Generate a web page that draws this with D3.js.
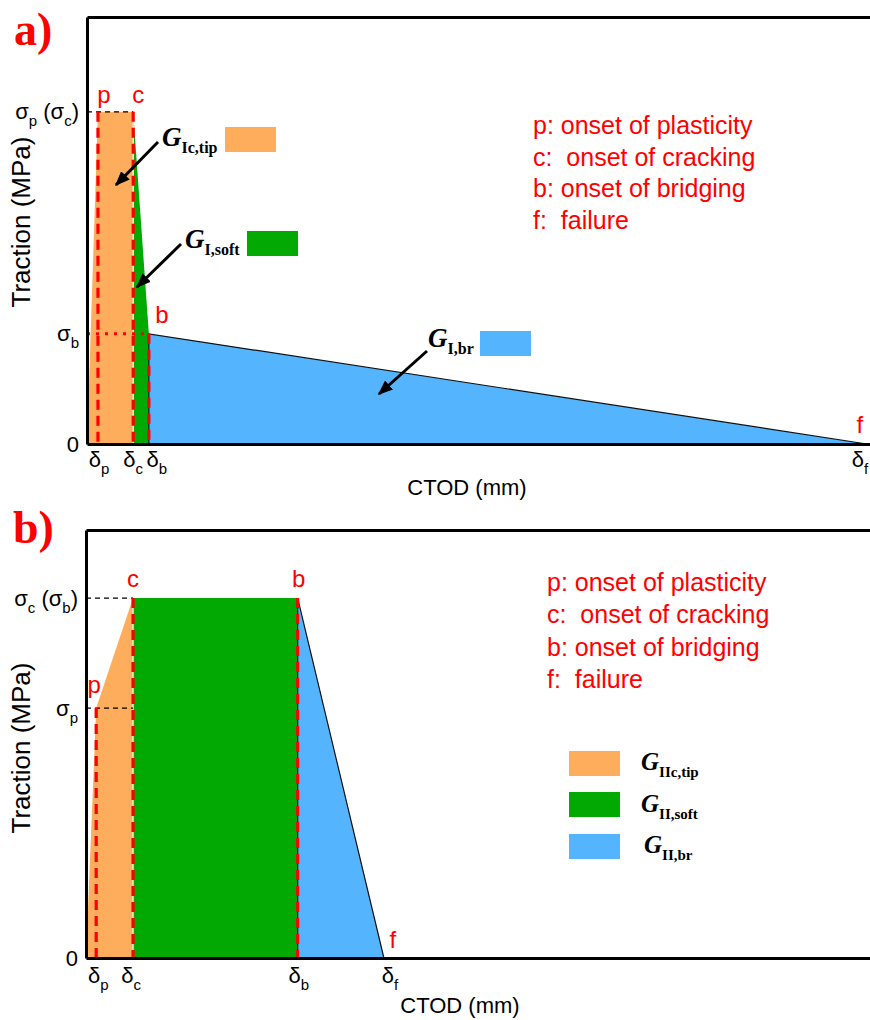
<!DOCTYPE html>
<html><head><meta charset="utf-8">
<script src="https://cdn.jsdelivr.net/npm/d3@7"></script>
<style>
  body { margin: 0; background: #fff; }
  svg { display: block; }
  text { white-space: pre; }
</style>
</head><body>
<svg id="chart" width="870" height="1020"></svg>
<script>
// ---- Mode I traction–separation law (panel a) ----
const modeIPoints   = ["0", "p", "c", "b", "f"];
const modeIDelta    = [0, 1.4, 5.9, 7.9, 99.6];
const modeITraction = [0, 77.8, 77.8, 25.8, 0];
const modeIYTicks   = ["0", "σ_b", "σ_p (σ_c)"];      // at 0, σb, σc
const modeIXTicks   = ["δ_p", "δ_c", "δ_b", "δ_f"];

// ---- Mode II traction–separation law (panel b) ----
const modeIIPoints   = ["0", "p", "c", "b", "f"];
const modeIIDelta    = [0, 1.3, 6.0, 27.0, 38.0];
const modeIITraction = [0, 58.4, 84.1, 84.1, 0];
const modeIIYTicks   = ["0", "σ_p", "σ_c (σ_b)"];     // at 0, σp, σc
const modeIIXTicks   = ["δ_p", "δ_c", "δ_b", "δ_f"];

// ---- shared text ----
const onsetNotes   = ["p: onset of plasticity", "c:  onset of cracking", "b: onset of bridging", "f:  failure"];
const energyModeI  = ["Ic,tip", "I,soft", "I,br"];
const energyModeII = ["IIc,tip", "II,soft", "II,br"];
const xTitle = "CTOD (mm)";
const yTitle = "Traction (MPa)";

const COLORS = { tip: "#FDAD5C", soft: "#03A903", br: "#54B5FE", red: "#FF0000" };
const SANS = "'Liberation Sans', Arial, sans-serif";
const SERIF = "'Liberation Serif', 'Times New Roman', serif";

const svg = d3.select("#chart");

// Writes "σ_p (σ_c)" style strings as text with subscript tspans
function richText(sel, str, size, subSize, subDy) {
  const parts = str.split(/(_[^\s()]+)/).filter(s => s.length);
  let lowered = false;
  parts.forEach(p => {
    if (p.startsWith("_")) {
      sel.append("tspan").attr("font-size", subSize).attr("dy", subDy).text(p.slice(1));
      lowered = true;
    } else {
      sel.append("tspan").attr("font-size", size).attr("dy", lowered ? -subDy : 0).text(p);
      lowered = false;
    }
  });
  return sel;
}

function energyLabel(g, x, y, sub, gSize, subSize) {
  const t = g.append("text").attr("x", x).attr("y", y).attr("font-family", SERIF).attr("font-weight", "bold");
  t.append("tspan").attr("font-style", "italic").attr("font-size", gSize).text("G");
  t.append("tspan").attr("font-size", subSize).attr("dy", gSize * 0.27).text(sub);
}

svg.append("defs").append("marker")
  .attr("id", "arrowhead").attr("viewBox", "0 0 10 10")
  .attr("refX", 9).attr("refY", 5).attr("markerWidth", 5).attr("markerHeight", 5)
  .attr("orient", "auto-start-reverse").attr("markerUnits", "strokeWidth")
  .append("path").attr("d", "M0,1 L10,5 L0,9 Z").attr("fill", "#000");

function drawPanel(cfg) {
  const g = svg.append("g");
  const x = d3.scaleLinear().domain([0, 100]).range([cfg.left, cfg.right]);
  const y = d3.scaleLinear().domain([0, 100]).range([cfg.bottom, cfg.top]);
  const pts = cfg.delta.map((d, i) => ({ name: cfg.points[i], d, t: cfg.traction[i] }));
  const P = name => pts.find(p => p.name === name);

  const area = d3.area().x(p => x(p.d)).y0(y(0)).y1(p => y(p.t));
  const segs = [
    { from: 0, to: 2, color: COLORS.tip },
    { from: 2, to: 3, color: COLORS.soft },
    { from: 3, to: 4, color: COLORS.br }
  ];
  segs.forEach(s => {
    g.append("path").datum(pts.slice(s.from, s.to + 1))
      .attr("d", area).attr("fill", s.color);
  });

  // thin white seam between the tip and softening regions
  g.append("line")
    .attr("x1", x(P("c").d)).attr("x2", x(P("c").d))
    .attr("y1", y(P("c").t)).attr("y2", y(0))
    .attr("stroke", "#fff").attr("stroke-width", 1.2);

  // outline of the bridging region
  const line = d3.line().x(p => x(p.d)).y(p => y(p.t));
  g.append("path")
    .datum([{ d: P("b").d, t: 0 }, P("b"), P("f")])
    .attr("d", line).attr("fill", "none").attr("stroke", "#111").attr("stroke-width", 1.2);

  // reference lines
  cfg.hRefs.forEach(r => {
    g.append("line")
      .attr("x1", x(0)).attr("x2", x(P(r.to).d))
      .attr("y1", y(P(r.at).t)).attr("y2", y(P(r.at).t))
      .attr("stroke", r.red ? COLORS.red : "#000")
      .attr("stroke-width", r.red ? 3 : 1.3)
      .attr("stroke-dasharray", r.red ? "3,6" : "5,4");
  });
  ["p", "c", "b"].forEach(n => {
    g.append("line")
      .attr("x1", x(P(n).d)).attr("x2", x(P(n).d))
      .attr("y1", y(P(n).t)).attr("y2", y(0))
      .attr("stroke", COLORS.red).attr("stroke-width", 3.2)
      .attr("stroke-dasharray", "10,6");
  });

  // axes frame
  const axB = d3.axisBottom(x).tickValues([]).tickSizeOuter(0);
  const axL = d3.axisLeft(y).tickValues([]).tickSizeOuter(0);
  const axT = d3.axisTop(x).tickValues([]).tickSizeOuter(0);
  [[axB, `translate(0,${cfg.bottom})`], [axL, `translate(${cfg.left},0)`], [axT, `translate(0,${cfg.top})`]]
    .forEach(([ax, tr]) => {
      const a = g.append("g").attr("transform", tr).call(ax);
      a.select(".domain").attr("stroke", "#000").attr("stroke-width", 3);
    });

  // tick labels
  cfg.yTickPts.forEach((n, i) => {
    const t = g.append("text")
      .attr("x", cfg.left - 8).attr("y", y(P(n).t) + 7.5)
      .attr("text-anchor", "end").attr("font-family", SANS).attr("fill", "#000");
    richText(t, cfg.yTicks[i], 22, 15, 7);
  });
  ["p", "c", "b", "f"].forEach((n, i) => {
    const t = g.append("text")
      .attr("x", x(P(n).d) + cfg.xTickShift[i]).attr("y", cfg.bottom + cfg.xTickDy)
      .attr("text-anchor", "middle").attr("font-family", SANS).attr("fill", "#000");
    richText(t, cfg.xTicks[i], 22, 15, 7);
  });

  // point labels
  ["p", "c", "b", "f"].forEach((n, i) => {
    const o = cfg.pointLabelOffset[i];
    g.append("text")
      .attr("x", x(P(n).d) + o[0]).attr("y", y(P(n).t) + o[1])
      .attr("text-anchor", "middle").attr("font-family", SANS)
      .attr("font-size", 24).attr("fill", COLORS.red).text(n);
  });

  // titles
  g.append("text").attr("x", cfg.xTitlePos[0]).attr("y", cfg.xTitlePos[1])
    .attr("text-anchor", "middle").attr("font-family", SANS).attr("font-size", 22).text(xTitle);
  g.append("text")
    .attr("transform", `translate(${cfg.yTitlePos[0]},${cfg.yTitlePos[1]}) rotate(-90)`)
    .attr("text-anchor", "middle").attr("font-family", SANS).attr("font-size", 26).text(yTitle);
  g.append("text").attr("x", cfg.tag[0]).attr("y", cfg.tag[1])
    .attr("font-family", SERIF).attr("font-weight", "bold").attr("font-size", 46)
    .attr("fill", COLORS.red).text(cfg.tagText);

  // onset notes
  onsetNotes.forEach((s, i) => {
    g.append("text").attr("x", cfg.notes[0]).attr("y", cfg.notes[1] + i * cfg.notes[2])
      .attr("font-family", SANS).attr("font-size", 25).attr("fill", COLORS.red).text(s);
  });

  // energy labels with swatches
  cfg.energy.forEach((e, i) => {
    const c = [COLORS.tip, COLORS.soft, COLORS.br][i];
    g.append("rect").attr("x", e.sw[0]).attr("y", e.sw[1]).attr("width", 51).attr("height", 25).attr("fill", c);
    energyLabel(g, e.lab[0], e.lab[1], cfg.energyNames[i], cfg.gSize, cfg.subSize);
    if (e.arrow) {
      g.append("line")
        .attr("x1", e.arrow[0]).attr("y1", e.arrow[1]).attr("x2", e.arrow[2]).attr("y2", e.arrow[3])
        .attr("stroke", "#000").attr("stroke-width", 3).attr("marker-end", "url(#arrowhead)");
    }
  });
}

drawPanel({
  top: 17, bottom: 444, left: 87, right: 870,
  points: modeIPoints, delta: modeIDelta, traction: modeITraction,
  yTicks: modeIYTicks, yTickPts: ["0", "b", "c"],
  xTicks: modeIXTicks, xTickShift: [1, 0, 8, -7], xTickDy: 23,
  hRefs: [{ at: "c", to: "c" }, { at: "b", to: "b", red: true }],
  pointLabelOffset: [[6, -9], [5, -9], [13, -11], [-7, -11]],
  xTitlePos: [467, 495], yTitlePos: [30, 222],
  tag: [14, 45], tagText: "a)",
  notes: [533, 134, 31.5],
  energyNames: energyModeI, gSize: 27, subSize: 16,
  energy: [
    { sw: [225, 127], lab: [162, 146], arrow: [158, 142, 116, 185] },
    { sw: [247, 231], lab: [185, 248], arrow: [181, 244, 137, 287] },
    { sw: [480, 331], lab: [428, 347], arrow: [427, 351, 379, 394] }
  ]
});

drawPanel({
  top: 530, bottom: 958, left: 86, right: 870,
  points: modeIIPoints, delta: modeIIDelta, traction: modeIITraction,
  yTicks: modeIIYTicks, yTickPts: ["0", "p", "c"],
  xTicks: modeIIXTicks, xTickShift: [2, -2, 1, 6], xTickDy: 25,
  hRefs: [{ at: "c", to: "c" }, { at: "p", to: "c" }],
  pointLabelOffset: [[-2, -15], [0, -11], [1, -11], [9, -10]],
  xTitlePos: [460, 1013], yTitlePos: [30, 748],
  tag: [13, 543], tagText: "b)",
  notes: [547, 591, 32.3],
  energyNames: energyModeII, gSize: 25, subSize: 15,
  energy: [
    { sw: [569, 751], lab: [641, 770] },
    { sw: [569, 792], lab: [641, 812] },
    { sw: [569, 834], lab: [644, 853] }
  ]
});
</script>
</body></html>
